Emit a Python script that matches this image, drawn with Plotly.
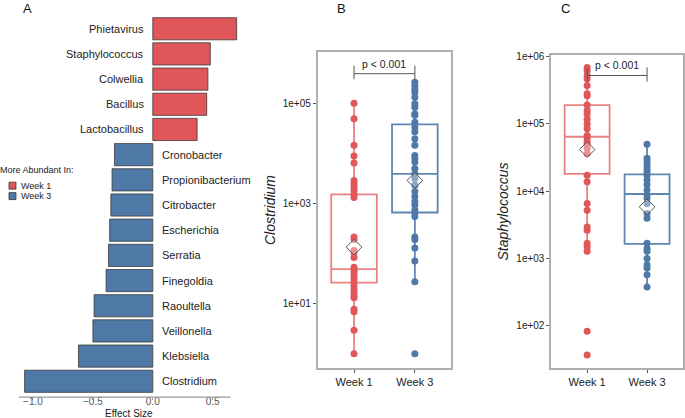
import plotly.graph_objects as go

RED = '#E15759'
BLUE = '#4E79A7'
FONT = 'Arial, Liberation Sans, sans-serif'
W, H = 685, 418

# Panel A: effect sizes (bottom to top)
genera = ['Clostridium', 'Klebsiella', 'Veillonella', 'Raoultella', 'Finegoldia', 'Serratia',
          'Escherichia', 'Citrobacter', 'Propionibacterium', 'Cronobacter',
          'Lactobacillus', 'Bacillus', 'Colwellia', 'Staphylococcus', 'Phietavirus']
effect = [-1.07, -0.62, -0.50, -0.49, -0.39, -0.37, -0.36, -0.35, -0.34, -0.32,
          0.37, 0.45, 0.46, 0.48, 0.70]

# Panel B: Clostridium abundance (log10 values)
clos_w1_log = [5.00, 4.69, 4.16, 3.95, 3.81, 3.46, 3.40, 3.36, 3.30, 3.24, 3.17, 3.12,
               2.33, 2.28, 2.06, 2.02, 1.92, 1.73, 1.67, 1.62, 1.55, 1.49, 1.42, 1.36,
               1.29, 1.22, 1.16, 1.12, 0.89, 0.84, 0.47, 0.00]
clos_w3_log = [5.42, 5.35, 5.28, 5.22, 5.12, 4.99, 4.92, 4.79, 4.76, 4.62, 4.52, 4.43,
               4.29, 4.16, 3.96, 3.90, 3.83, 3.70, 3.60, 3.50, 3.37, 3.24, 3.14, 3.04,
               2.97, 2.87, 2.81, 2.74, 2.33, 2.28, 2.11, 1.85, 1.44, 0.00]
# box stats: q1, median, q3, lower, upper, mean (log10)
clos_w1_box = [1.42, 1.69, 3.18, 0.00, 5.00, 2.13]
clos_w3_box = [2.82, 3.59, 4.58, 1.44, 5.42, 3.46]

# Panel C: Staphylococcus abundance (log10)
staph_w1_log = [5.84, 5.79, 5.72, 5.67, 5.57, 5.45, 5.42, 5.28, 5.20, 5.15, 5.07, 5.00,
                4.93, 4.83, 4.78, 4.73, 4.69, 4.64, 4.56, 4.24, 4.14, 3.82, 3.72, 3.47,
                3.42, 3.23, 3.18, 3.11, 1.92, 1.57]
staph_w3_log = [4.70, 4.49, 4.44, 4.39, 4.34, 4.29, 4.24, 4.17, 4.10, 4.02, 3.95, 3.90,
                3.82, 3.67, 3.60, 3.23, 3.15, 3.11, 3.00, 2.91, 2.86, 2.76, 2.58]
staph_w1_box = [4.26, 4.81, 5.28, 3.11, 5.84, 4.62]
staph_w3_box = [3.22, 3.96, 4.25, 2.58, 4.70, 3.77]

weeks = ['Week 1', 'Week 3']
legend_items = [('Week 1', RED), ('Week 3', BLUE)]

fig = go.Figure()

# ---- Panel A
for label, color, sel in [('Week 1', RED, lambda v: v > 0), ('Week 3', BLUE, lambda v: v < 0)]:
    ys = [g for g, v in zip(genera, effect) if sel(v)]
    xs = [v for v in effect if sel(v)]
    fig.add_trace(go.Bar(x=xs, y=ys, orientation='h', name=label, width=0.88,
                         marker=dict(color=color, line=dict(color='#3a3a3a', width=0.8)),
                         xaxis='x', yaxis='y', hoverinfo='skip', showlegend=False))

for g, v in zip(genera, effect):
    fig.add_annotation(x=0, y=g, xref='x', yref='y', text=g, showarrow=False,
                       xanchor='right' if v > 0 else 'left', xshift=-7 if v > 0 else 7,
                       font=dict(size=11, color='#222', family=FONT))

fig.add_shape(type='line', xref='x', yref='paper', x0=-1.117, x1=0.65,
              y0=1 - 397 / H, y1=1 - 397 / H, line=dict(color='#9a9a9a', width=1.2))
fig.add_annotation(x=0.0, xref='x', y=1 - 413.5 / H, yref='paper', text='Effect Size',
                   showarrow=False, xanchor='center', yanchor='middle', xshift=-24,
                   font=dict(size=10, color='#222', family=FONT))

# manual legend
fig.add_annotation(x=0, y=1 - 168 / H, xref='paper', yref='paper', text='More Abundant In:',
                   showarrow=False, xanchor='left', yanchor='middle', xshift=-2,
                   font=dict(size=9, color='#222', family=FONT))
for i, (label, color) in enumerate(legend_items):
    yc = 184 + 10.5 * i
    fig.add_shape(type='rect', xref='paper', yref='paper', x0=9 / W, x1=16 / W,
                  y0=1 - (yc + 3.5) / H, y1=1 - (yc - 3.5) / H,
                  fillcolor=color, line=dict(color='#333', width=0.8))
    fig.add_annotation(x=19 / W, y=1 - yc / H, xref='paper', yref='paper', text=label,
                       showarrow=False, xanchor='left', yanchor='middle',
                       font=dict(size=9, color='#222', family=FONT))

# ---- Box panels
def add_box(xax, yax, xpos, box, boxcolor):
    q1, med, q3, lo, hi, mean = [10 ** v for v in box]
    fig.add_trace(go.Box(x=[xpos], q1=[q1], median=[med], q3=[q3], lowerfence=[lo],
                         upperfence=[hi], width=0.75, whiskerwidth=0,
                         line=dict(color=boxcolor, width=1.8), fillcolor='rgba(0,0,0,0)',
                         xaxis=xax, yaxis=yax, showlegend=False, hoverinfo='skip'))
    return mean

def add_points(xax, yax, xpos, vals, color):
    fig.add_trace(go.Scatter(x=[xpos] * len(vals), y=[10 ** v for v in vals], mode='markers',
                             marker=dict(color=color, size=7), xaxis=xax, yaxis=yax,
                             showlegend=False, hoverinfo='skip'))

def add_mean(xax, yax, means):
    fig.add_trace(go.Scatter(x=[0, 1], y=means, mode='markers',
                             marker=dict(symbol='diamond', size=12, color='rgba(255,255,255,0.35)',
                                         line=dict(color='#555', width=1)),
                             xaxis=xax, yaxis=yax, showlegend=False, hoverinfo='skip'))

m1 = add_box('x2', 'y2', 0, clos_w1_box, 'rgba(225,87,89,0.75)')
m3 = add_box('x2', 'y2', 1, clos_w3_box, 'rgba(78,121,167,0.9)')
add_points('x2', 'y2', 0, clos_w1_log, RED)
add_points('x2', 'y2', 1, clos_w3_log, BLUE)
add_mean('x2', 'y2', [m1, m3])

m1 = add_box('x3', 'y3', 0, staph_w1_box, 'rgba(225,87,89,0.75)')
m3 = add_box('x3', 'y3', 1, staph_w3_box, 'rgba(78,121,167,0.9)')
add_points('x3', 'y3', 0, staph_w1_log, RED)
add_points('x3', 'y3', 1, staph_w3_log, BLUE)
add_mean('x3', 'y3', [m1, m3])

# significance brackets
for xr, yr, ytop, ybar, ybot in [('x2', 'y2', 5.75, 5.59, 5.48),
                                 ('x3', 'y3', 5.84, 5.72, 5.63)]:
    for x0 in (0, 1):
        fig.add_shape(type='line', xref=xr, yref=yr, x0=x0, x1=x0, y0=10 ** ybot, y1=10 ** ytop,
                      line=dict(color='#555', width=1))
    fig.add_shape(type='line', xref=xr, yref=yr, x0=0, x1=1, y0=10 ** ybar, y1=10 ** ybar,
                  line=dict(color='#555', width=1))
    fig.add_annotation(x=0.5, y=ybar, xref=xr, yref=yr, text='p < 0.001', showarrow=False,
                       yanchor='middle', yshift=10, font=dict(size=10.5, color='#222', family=FONT))

# panel letters
for txt, px_x in [('A', 28), ('B', 342), ('C', 566)]:
    fig.add_annotation(x=px_x / W, y=1 - 6 / H, xref='paper', yref='paper', text=txt,
                       showarrow=False, xanchor='center', yanchor='middle',
                       font=dict(size=13, color='#111', family=FONT))

box_axis = dict(showline=True, mirror=True, linecolor='#b0b0b0', linewidth=1.5,
                showgrid=False, zeroline=False, ticks='outside', ticklen=3, tickcolor='#555')
ytick_font = dict(size=10, color='#222', family=FONT)
xtick_font = dict(size=11, color='#222', family=FONT)

fig.update_layout(
    width=W, height=H, margin=dict(l=0, r=0, t=0, b=0),
    plot_bgcolor='white', paper_bgcolor='white', barmode='overlay',
    font=dict(family=FONT, color='#222'),
    showlegend=False,
    xaxis=dict(domain=[19 / W, 240 / W], range=[-1.117, 0.725], showgrid=False, zeroline=False,
               showline=False, tickvals=[-1, -0.5, 0, 0.5],
               ticktext=['\u22121.0', '\u22120.5', '0.0', '0.5'],
               ticks='outside', ticklen=2, tickcolor='#999', ticklabelstandoff=-7,
               tickfont=dict(size=10, color='#555', family=FONT)),
    yaxis=dict(domain=[1 - 397 / H, 1 - 14 / H], type='category', categoryarray=genera,
               range=[-0.63, 14.47], showticklabels=False, showgrid=False, zeroline=False,
               showline=False),
    xaxis2=dict(domain=[318 / W, 452 / W], range=[-0.6, 1.6], anchor='y2',
                tickvals=[0, 1], ticktext=weeks, tickfont=xtick_font, **box_axis),
    yaxis2=dict(domain=[1 - 368 / H, 1 - 49 / H], type='log', range=[-0.29, 6.03], anchor='x2',
                tickvals=[10, 1000, 100000], ticktext=['1e+01', '1e+03', '1e+05'],
                tickfont=ytick_font,
                title=dict(text='<i>Clostridium</i>', font=dict(size=14), standoff=4), **box_axis),
    xaxis3=dict(domain=[552 / W, 684 / W], range=[-0.6, 1.6], anchor='y3',
                tickvals=[0, 1], ticktext=weeks, tickfont=xtick_font, **box_axis),
    yaxis3=dict(domain=[1 - 368 / H, 1 - 52 / H], type='log', range=[1.37, 6.03], anchor='x3',
                tickvals=[100, 1000, 10000, 100000, 1000000],
                ticktext=['1e+02', '1e+03', '1e+04', '1e+05', '1e+06'],
                tickfont=ytick_font,
                title=dict(text='<i>Staphylococcus</i>', font=dict(size=14), standoff=4), **box_axis),
)

# the page body has a default 8px margin; drop it so the figure sits at the top-left corner
fig.write_html('out.html', config={'displayModeBar': False},
               post_script="document.body.style.margin='0';")
